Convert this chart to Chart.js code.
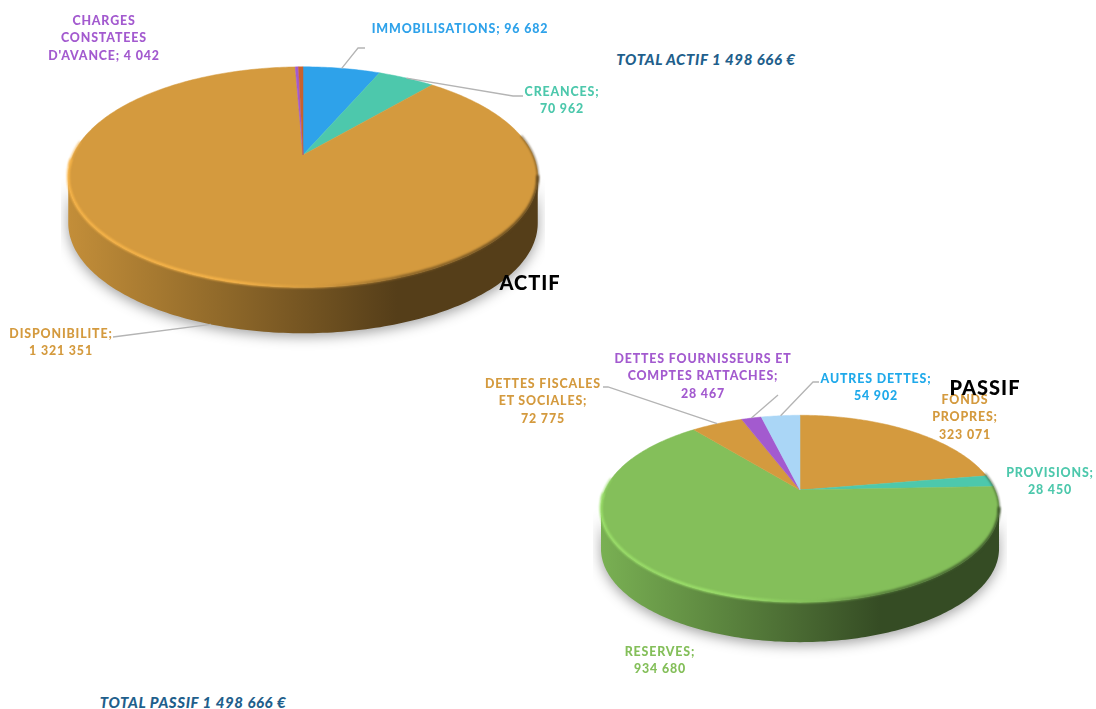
<!DOCTYPE html>
<html lang="fr">
<head>
<meta charset="utf-8">
<title>Actif / Passif</title>
<script src="https://cdn.jsdelivr.net/npm/chart.js@4/dist/chart.umd.js"></script>
<style>
  html, body { margin: 0; background: #fff; overflow: hidden; width: 1096px; height: 709px; }
  canvas { position: absolute; }
  .lbl {
    position: absolute; transform: translateX(-50%); text-align: center; white-space: pre;
    font: 900 12.4px/17.5px Lato, sans-serif; letter-spacing: 0.85px;
  }
  .name { position: absolute; transform: translate(-50%, -50%); color: #000; white-space: pre;
    font: 900 20px/24px Lato, sans-serif; letter-spacing: 1px; }
  .total { position: absolute; transform: translate(-50%, -50%); color: #1f5f8c; white-space: pre;
    font: italic 900 15px/18px Lato, sans-serif; letter-spacing: 0.6px; }
</style>
</head>
<body>
<canvas id="actifChart" width="484" height="484" style="left:61px;top:-87px"></canvas>
<canvas id="passifChart" width="414" height="414" style="left:593px;top:283px"></canvas>
<script>
// slices go clockwise from 12 o'clock, same order as the source workbook
const actifCategories = ["IMMOBILISATIONS", "CREANCES", "DISPONIBILITE", "CHARGES CONSTATEES D'AVANCE", ""];
const actifValues = [96682, 70962, 1321351, 4042, 5629];
const actifColors = ["#2ea2ea", "#4dc8ac", "#d49a3e", "#a35acf", "#c8622e"];

const passifCategories = ["FONDS PROPRES", "PROVISIONS", "RESERVES", "DETTES FISCALES ET SOCIALES", "DETTES FOURNISSEURS ET COMPTES RATTACHES", "AUTRES DETTES"];
const passifValues = [323071, 28450, 934680, 72775, 28467, 54902];
const passifColors = ["#d49a3e", "#4dc8ac", "#84bf5a", "#d49a3e", "#a35acf", "#aad6f6"];

// fake perspective of the top face
const TILT = 0.2;
const SQUASH = 0.46;

function shade(hex, f) {
  const n = parseInt(hex.slice(1), 16);
  const c = [n >> 16, (n >> 8) & 255, n & 255].map((v) => Math.min(255, Math.round(v * f)));
  return `rgb(${c[0]},${c[1]},${c[2]})`;
}

function project(arc, t) {
  const w = 1 - TILT * Math.sin(t);
  return {
    x: arc.x + (arc.outerRadius * Math.cos(t)) / w,
    y: arc.y + (SQUASH * arc.outerRadius * Math.sin(t)) / w,
  };
}

function halfWidth(arc) {
  return arc.outerRadius / Math.sqrt(1 - TILT * TILT);
}

function wallGradient(ctx, arc, color) {
  const hw = halfWidth(arc);
  const g = ctx.createLinearGradient(arc.x - hw, 0, arc.x + hw, 0);
  g.addColorStop(0, shade(color, 0.92));
  g.addColorStop(0.3, shade(color, 0.7));
  g.addColorStop(0.5, shade(color, 0.55));
  g.addColorStop(0.7, shade(color, 0.4));
  g.addColorStop(1, shade(color, 0.4));
  return g;
}

function drawWall(ctx, arc, color, depth) {
  // only the front part of the rim shows
  const lo = Math.max(arc.startAngle, Math.asin(TILT));
  const hi = Math.min(arc.endAngle, Math.PI - Math.asin(TILT));
  if (hi <= lo) return;
  const steps = 160;
  ctx.beginPath();
  for (let i = 0; i <= steps; i++) {
    const p = project(arc, lo + ((hi - lo) * i) / steps);
    if (i === 0) ctx.moveTo(p.x, p.y);
    else ctx.lineTo(p.x, p.y);
  }
  for (let i = steps; i >= 0; i--) {
    const p = project(arc, lo + ((hi - lo) * i) / steps);
    ctx.lineTo(p.x, p.y + depth);
  }
  ctx.closePath();
  ctx.fillStyle = wallGradient(ctx, arc, color);
  ctx.fill();
}

function drawFace(ctx, arc, color) {
  const steps = Math.max(2, Math.ceil((arc.endAngle - arc.startAngle) * 60));
  ctx.beginPath();
  ctx.moveTo(arc.x, arc.y);
  for (let i = 0; i <= steps; i++) {
    const p = project(arc, arc.startAngle + ((arc.endAngle - arc.startAngle) * i) / steps);
    ctx.lineTo(p.x, p.y);
  }
  ctx.closePath();
  ctx.fillStyle = color;
  ctx.strokeStyle = color;
  ctx.lineWidth = 0.5;
  ctx.fill();
  ctx.stroke();
}

function strokeRim(ctx, arc, lo, hi, style, width) {
  ctx.save();
  ctx.filter = "blur(0.8px)";
  ctx.strokeStyle = style;
  ctx.lineWidth = width;
  ctx.lineCap = "round";
  ctx.beginPath();
  const steps = 120;
  for (let i = 0; i <= steps; i++) {
    const p = project(arc, lo + ((hi - lo) * i) / steps);
    if (i === 0) ctx.moveTo(p.x, p.y - 0.5);
    else ctx.lineTo(p.x, p.y - 0.5);
  }
  ctx.stroke();
  ctx.restore();
}

function drawRim(ctx, arc, color) {
  const hw = halfWidth(arc);
  const g = ctx.createLinearGradient(arc.x - hw, 0, arc.x + hw, 0);
  g.addColorStop(0, shade(color, 1.18));
  g.addColorStop(0.35, shade(color, 1.18));
  g.addColorStop(0.55, shade(color, 0.98));
  g.addColorStop(0.72, shade(color, 0.6));
  g.addColorStop(1, shade(color, 0.42));
  strokeRim(ctx, arc, 0.2, Math.PI - 0.05, g, 2.6);
  // the bevel thins out towards the back on both sides
  strokeRim(ctx, arc, Math.PI - 0.1, Math.PI + 0.12, shade(color, 1.14), 1.6);
  strokeRim(ctx, arc, -0.18, 0.25, shade(color, 0.42), 1.3);
}

const pie3d = {
  id: "pie3d",
  beforeDatasetDraw(chart, args, opts) {
    const ctx = chart.ctx;
    const arcs = chart.getDatasetMeta(args.index).data;
    // soft floor shadow, taken from the wall outline
    ctx.save();
    ctx.shadowColor = "rgba(0,0,0,0.38)";
    ctx.shadowBlur = 13;
    ctx.shadowOffsetY = 3;
    arcs.forEach((a) => drawWall(ctx, a, a.options.backgroundColor, opts.depth));
    ctx.restore();
    arcs.forEach((a) => drawFace(ctx, a, a.options.backgroundColor));
    const main = arcs[opts.frontIndex];
    drawRim(ctx, main, main.options.backgroundColor);
    return false;
  },
  afterDraw(chart, args, opts) {
    const ctx = chart.ctx;
    const box = chart.canvas.getBoundingClientRect();
    const arcs = chart.getDatasetMeta(0).data;
    ctx.save();
    ctx.strokeStyle = "#b4b4b4";
    ctx.lineWidth = 1.3;
    opts.leaders.forEach((l) => {
      const a = arcs[l.slice];
      const start = project(a, (a.startAngle + a.endAngle) / 2);
      ctx.beginPath();
      ctx.moveTo(start.x, start.y + (l.front ? opts.depth : 0));
      l.to.forEach((pt) => ctx.lineTo(pt[0] - box.left, pt[1] - box.top));
      ctx.stroke();
    });
    ctx.restore();
  },
};

function makePie(id, categories, values, colors, pieOpts) {
  return new Chart(document.getElementById(id), {
    type: "pie",
    data: {
      labels: categories,
      datasets: [{ data: values, backgroundColor: colors, borderWidth: 0, hoverOffset: 0 }],
    },
    options: {
      responsive: false,
      animation: false,
      events: [],
      layout: { padding: 12 },
      plugins: { legend: { display: false }, tooltip: { enabled: false }, pie3d: pieOpts },
    },
    plugins: [pie3d],
  });
}

makePie("actifChart", actifCategories, actifValues, actifColors, {
  depth: 46,
  frontIndex: 2,
  leaders: [
    { slice: 0, to: [[358, 48], [365, 48]] },
    { slice: 1, to: [[513, 96], [523, 96]] },
    { slice: 2, front: true, to: [[113, 337]] },
  ],
});

makePie("passifChart", passifCategories, passifValues, passifColors, {
  depth: 40,
  frontIndex: 2,
  leaders: [
    { slice: 3, to: [[608, 387], [603, 387]] },
    { slice: 4, to: [[778, 395]] },
    { slice: 5, to: [[813, 382], [819, 382]] },
  ],
});

// data labels, center x / center y of the first line
const dataLabels = [
  { text: "CHARGES\nCONSTATEES\nD'AVANCE; 4 042", x: 104, y: 20, color: "#a35acf" },
  { text: "IMMOBILISATIONS; 96 682", x: 460, y: 28, color: "#2ea2ea" },
  { text: "CREANCES;\n70 962", x: 562, y: 91, color: "#4dc8ac" },
  { text: "DISPONIBILITE;\n1 321 351", x: 61, y: 333, color: "#d49a3e" },
  { text: "DETTES FISCALES\nET SOCIALES;\n72 775", x: 543, y: 383, color: "#d49a3e" },
  { text: "DETTES FOURNISSEURS ET\nCOMPTES RATTACHES;\n28 467", x: 703, y: 358, color: "#a35acf" },
  { text: "AUTRES DETTES;\n54 902", x: 876, y: 378, color: "#1fa9ea" },
  { text: "FONDS\nPROPRES;\n323 071", x: 965, y: 399, color: "#d49a3e" },
  { text: "PROVISIONS;\n28 450", x: 1050, y: 472, color: "#4dc8ac" },
  { text: "RESERVES;\n934 680", x: 660, y: 651, color: "#84bf5a" },
];

dataLabels.forEach((l) => {
  const d = document.createElement("div");
  d.className = "lbl";
  d.textContent = l.text;
  d.style.left = l.x + "px";
  d.style.top = l.y - 8.25 + "px";
  d.style.color = l.color;
  document.body.appendChild(d);
});

[
  { cls: "name", text: "ACTIF", x: 530, y: 282 },
  { cls: "name", text: "PASSIF", x: 985, y: 387 },
  { cls: "total", text: "TOTAL ACTIF 1 498 666 €", x: 706, y: 59 },
  { cls: "total", text: "TOTAL PASSIF 1 498 666 €", x: 193, y: 702 },
].forEach((t) => {
  const d = document.createElement("div");
  d.className = t.cls;
  d.textContent = t.text;
  d.style.left = t.x + "px";
  d.style.top = t.y + "px";
  document.body.appendChild(d);
});
</script>
</body>
</html>
